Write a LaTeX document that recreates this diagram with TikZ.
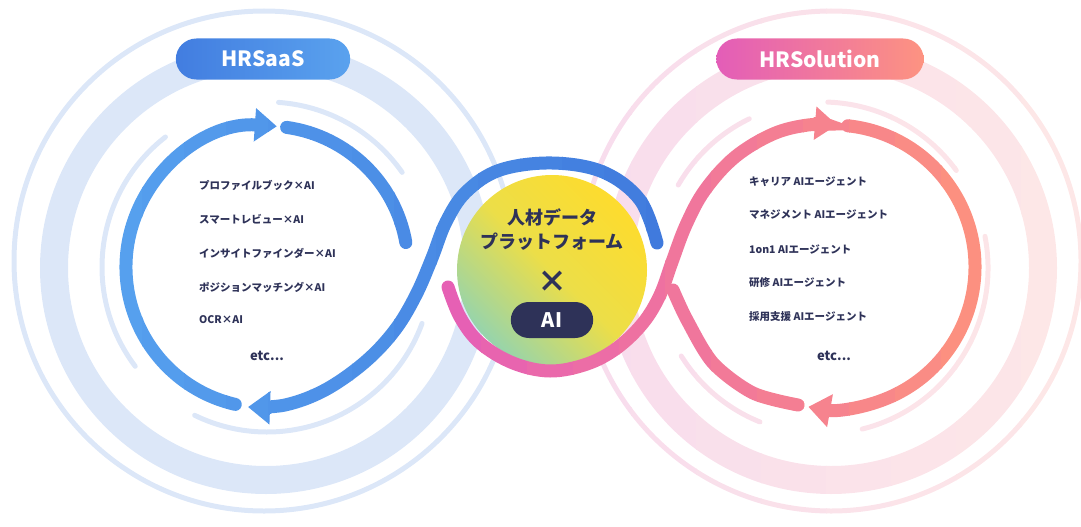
\documentclass[tikz,border=0pt]{standalone}
\usepackage{fontspec}
\setmainfont{Noto Sans CJK JP}
\usetikzlibrary{arrows.meta,shapes.misc}

\definecolor{ringblue}{RGB}{220,231,248}
\definecolor{ringpinkl}{RGB}{248,221,237}
\definecolor{ringpinkr}{RGB}{253,231,231}
\definecolor{flowbluel}{RGB}{86,160,238}
\definecolor{flowblued}{RGB}{64,122,221}
\definecolor{flowpink}{RGB}{230,96,180}
\definecolor{flowsalmon}{RGB}{252,144,128}
\definecolor{navy}{RGB}{46,50,88}
\definecolor{hubyellow}{RGB}{253,220,46}
\definecolor{hubmid}{RGB}{236,222,72}
\definecolor{hubgreen}{RGB}{150,212,172}

% the two loops, drawn in colour #1
\newcommand\blueloop[1]{%
    \draw[#1,tipflow] (L) ++(103:141) arc[start angle=103,end angle=274,radius=141];
    \draw[#1,flow] (L) ++(278:141) arc[start angle=278,end angle=350,radius=141];
    \draw[#1,tipflow] plot[smooth,tension=0.6] coordinates {(657,243) (640,200) (603,172) (552,163) (500,170) (466,192) (446,222) (432,258) (416,295) (395,330) (365,362) (325,390) (285,405) (248,407)};}
\newcommand\pinkloop[1]{%
    \draw[#1,tipflow] (R) ++(276:142) arc[start angle=276,end angle=460,radius=142];
    \draw[#1,flow] plot[smooth] coordinates {(673,290) (687,320) (713,363) (753,393) (798,405)};
    \draw[#1,tipflow] plot[smooth,tension=0.6] coordinates {(448,287) (460,317) (480,343) (513,363) (550,371) (587,364) (617,348) (643,323) (660,295) (672,262) (686,225) (705,190) (735,157) (773,134) (808,125) (837,125)};}
\newcommand\pinkrings[1]{%
    \draw[#1,line width=5pt] (831,261) circle (250);
    \draw[#1,band] (831,268) circle (212);
    \draw[#1,ring] (Ri) ++(210:166) arc[start angle=210,end angle=244,radius=166];
    \draw[#1,ring] (Ri) ++(272:166) arc[start angle=272,end angle=324,radius=166];
    \draw[#1,ring] (Ri) ++(349:166) arc[start angle=349,end angle=436,radius=166];
    \draw[#1,ring] (Ri) ++(112:166) arc[start angle=112,end angle=148,radius=166];}

\begin{document}
\begin{tikzpicture}[x=1pt,y=-1pt,
    ring/.style={line width=5pt,line cap=round},
    band/.style={line width=28pt},
    flow/.style={line width=13pt,line cap=round},
    tipflow/.style={flow,-{Triangle[length=22pt,width=32pt]}},
    badge/.style={rounded rectangle,minimum height=41pt,text=white,font=\bfseries\fontsize{21}{21}\selectfont},
    item/.style={anchor=west,inner sep=0pt,text=navy,font=\bfseries\fontsize{10.5}{12}\selectfont}]
    \useasboundingbox (0,0) rectangle (1081,527);

    \coordinate (L) at (267,267);
    \coordinate (R) at (833,267);
    \coordinate (Ri) at (822,268);
    \coordinate (C) at (552,270);

    % light rings
    \draw[ringblue,line width=5pt] (264,261) circle (250);
    \draw[ringblue,band] (266,268) circle (212);
    \draw[ringblue,ring] (L) ++(143:165) arc[start angle=143,end angle=232,radius=165];
    \draw[ringblue,ring] (L) ++(274:165) arc[start angle=274,end angle=325,radius=165];
    \draw[ringblue,ring] (L) ++(20:165) arc[start angle=20,end angle=116,radius=165];
    \foreach \i in {0,...,7}{
        \pgfmathsetmacro\mix{100-\i*100/7}
        \begin{scope}
            \clip (566+\i*65,0) rectangle (632+\i*65,527);
            \colorlet{ringcur}{ringpinkl!\mix!ringpinkr}
            \pinkrings{ringcur}
        \end{scope}
    }

    % hub
    \shade[bottom color=hubgreen,top color=hubyellow,middle color=hubmid,shading angle=-45] (C) circle (95);

    % blue loop, light on the left
    \foreach \i in {0,...,13}{
        \pgfmathsetmacro\mix{100-\i*100/13}
        \begin{scope}
            \clip (100+\i*42,0) rectangle (143+\i*42,527);
            \colorlet{flowcur}{flowbluel!\mix!flowblued}
            \blueloop{flowcur}
        \end{scope}
    }

    % pink loop, magenta to salmon
    \foreach \i in {0,...,11}{
        \pgfmathsetmacro\mix{100-\i*100/11}
        \begin{scope}
            \clip (435+\i*46,0) rectangle (482+\i*46,527);
            \colorlet{flowcur}{flowpink!\mix!flowsalmon}
            \pinkloop{flowcur}
        \end{scope}
    }

    % hub texts
    \node[text=navy,align=center,font=\bfseries\fontsize{18}{24}\selectfont] (hub) at (552,230) {人材データ\\プラットフォーム};
    \node[text=navy,font=\bfseries\fontsize{30}{30}\selectfont] (times) at (552,282) {×};
    \node[fill=navy,rounded rectangle,minimum width=89pt,minimum height=36pt,text=white,font=\bfseries\fontsize{20}{20}\selectfont] (ai) at (552,320) {AI};

    % badges
    \node[badge,left color={rgb,255:red,66;green,125;blue,224},right color={rgb,255:red,90;green,162;blue,238},minimum width=181pt] (saas) at (263,59) {HRSaaS};
    \node[badge,left color={rgb,255:red,227;green,93;blue,184},right color={rgb,255:red,253;green,147;blue,129},minimum width=214pt] (sol) at (820,59) {HRSolution};

    % HRSaaS list
    \node[item] (p1) at (199,185) {プロファイルブック×AI};
    \node[item] (p2) at (199,219) {スマートレビュー×AI};
    \node[item] (p3) at (199,253) {インサイトファインダー×AI};
    \node[item] (p4) at (199,287) {ポジションマッチング×AI};
    \node[item] (p5) at (199,320) {OCR×AI};
    \node[text=navy,font=\bfseries\fontsize{13}{13}\selectfont] (etcl) at (267,356) {etc...};

    % HRSolution list
    \node[item] (s1) at (749,182) {キャリア AIエージェント};
    \node[item] (s2) at (749,215) {マネジメント AIエージェント};
    \node[item] (s3) at (749,249) {1on1 AIエージェント};
    \node[item] (s4) at (749,283) {研修 AIエージェント};
    \node[item] (s5) at (749,317) {採用支援 AIエージェント};
    \node[text=navy,font=\bfseries\fontsize{13}{13}\selectfont] (etcr) at (834,356) {etc...};
\end{tikzpicture}
\end{document}
